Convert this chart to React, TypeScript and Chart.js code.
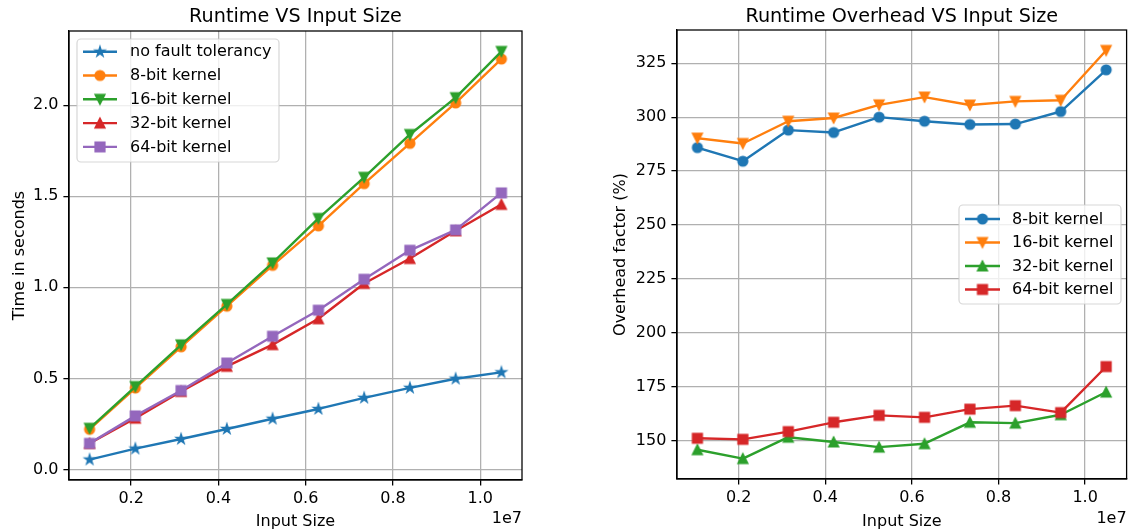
import React, { useEffect, useRef } from 'react';
import { Chart, registerables } from 'chart.js';

Chart.register(...registerables);

// ---------------- DATA ----------------
const inputSizes = [1048576, 2097152, 3145728, 4194304, 5242880, 6291456, 7340032, 8388608, 9437184, 10485760];
const xTickValues = [2e6, 4e6, 6e6, 8e6, 1e7];

const runtimeNoFT = [0.054, 0.114, 0.167, 0.222, 0.278, 0.332, 0.393, 0.448, 0.498, 0.533];
const runtime8 = [0.22, 0.447, 0.673, 0.896, 1.12, 1.337, 1.569, 1.79, 2.012, 2.253];
const runtime16 = [0.226, 0.455, 0.684, 0.906, 1.134, 1.378, 1.604, 1.839, 2.041, 2.295];
const runtime32 = [0.143, 0.281, 0.428, 0.566, 0.685, 0.827, 1.021, 1.158, 1.31, 1.455];
const runtime64 = [0.143, 0.294, 0.433, 0.584, 0.731, 0.874, 1.044, 1.203, 1.315, 1.518];
const runtimeYTicks = [0, 0.5, 1.0, 1.5, 2.0];

const overhead8 = [285.9, 279.6, 294.0, 292.9, 300.0, 298.1, 296.6, 296.8, 302.6, 321.9];
const overhead16 = [290.3, 287.8, 298.1, 299.6, 305.7, 309.3, 305.6, 307.3, 307.8, 330.9];
const overhead32 = [146.0, 141.9, 151.8, 149.6, 147.2, 148.8, 158.7, 158.3, 162.2, 172.7];
const overhead64 = [151.3, 150.8, 154.4, 158.7, 161.9, 161.0, 164.8, 166.4, 163.2, 184.5];
const overheadYTicks = [150, 175, 200, 225, 250, 275, 300, 325];

const runtimeLabels = ['no fault tolerancy', '8-bit kernel', '16-bit kernel', '32-bit kernel', '64-bit kernel'];
const overheadLabels = ['8-bit kernel', '16-bit kernel', '32-bit kernel', '64-bit kernel'];

// ---------------- STYLE ----------------
const FONT = '"DejaVu Sans", sans-serif';
const BLUE = '#1f77b4';
const ORANGE = '#ff7f0e';
const GREEN = '#2ca02c';
const RED = '#d62728';
const PURPLE = '#9467bd';

const W = 567;
const H = 532;

type Kind = 'star' | 'circle' | 'triUp' | 'triDown' | 'square';

function markerPath(ctx: CanvasRenderingContext2D, kind: Kind, x: number, y: number) {
  const s = 4.8;
  ctx.beginPath();
  if (kind === 'star') {
    const inner = s * 0.381966;
    for (let i = 0; i < 10; i++) {
      const r = i % 2 === 0 ? s : inner;
      const a = -Math.PI / 2 + (i * Math.PI) / 5;
      const px = x + r * Math.cos(a);
      const py = y + r * Math.sin(a);
      if (i === 0) ctx.moveTo(px, py);
      else ctx.lineTo(px, py);
    }
  } else if (kind === 'circle') {
    ctx.arc(x, y, s, 0, Math.PI * 2);
  } else if (kind === 'triUp') {
    ctx.moveTo(x, y - s);
    ctx.lineTo(x - s, y + s);
    ctx.lineTo(x + s, y + s);
  } else if (kind === 'triDown') {
    ctx.moveTo(x, y + s);
    ctx.lineTo(x - s, y - s);
    ctx.lineTo(x + s, y - s);
  } else {
    ctx.rect(x - s, y - s, 2 * s, 2 * s);
  }
  ctx.closePath();
}

function makeMarker(kind: Kind, color: string): HTMLCanvasElement {
  const c = document.createElement('canvas');
  c.width = 16;
  c.height = 16;
  const ctx = c.getContext('2d')!;
  ctx.fillStyle = color;
  ctx.strokeStyle = color;
  ctx.lineWidth = 1.6;
  ctx.lineJoin = 'miter';
  markerPath(ctx, kind, 8, 8);
  ctx.fill();
  ctx.stroke();
  return c;
}

interface Area { left: number; right: number; top: number; bottom: number }
interface LegendSpec { x: number; y: number; w: number; h: number; rows: number[]; lx1: number; lx2: number; tx: number }
interface SeriesSpec { label: string; data: number[]; color: string; kind: Kind }

function padRange(values: number[]) {
  const mn = Math.min(...values);
  const mx = Math.max(...values);
  const m = (mx - mn) * 0.05;
  return [mn - m, mx + m];
}

function buildConfig(opts: {
  series: SeriesSpec[];
  yTicks: number[];
  yFmt: (v: number) => string;
  area: Area;
  title: string;
  ylabel: string;
  ylabelX: number;
  legend: LegendSpec;
}) {
  const { series, yTicks, yFmt, area, title, ylabel, ylabelX, legend } = opts;
  const [xMin, xMax] = padRange(inputSizes);
  const [yMin, yMax] = padRange(series.flatMap((s) => s.data));
  const n = series.length;
  const images = series.map((s) => makeMarker(s.kind, s.color));

  const overlay = {
    id: 'overlay_' + title.replace(/\s/g, ''),
    afterDatasetsDraw(chart: any) {
      const ctx = chart.ctx as CanvasRenderingContext2D;
      const ca = chart.chartArea;
      ctx.save();
      ctx.strokeStyle = '#000';
      ctx.lineWidth = 1.28;
      ctx.strokeRect(ca.left, ca.top, ca.right - ca.left, ca.bottom - ca.top);
      ctx.restore();
    },
    afterDraw(chart: any) {
      const ctx = chart.ctx as CanvasRenderingContext2D;
      const ca = chart.chartArea;
      const cx = (ca.left + ca.right) / 2;
      ctx.save();
      ctx.fillStyle = '#000';
      // title
      ctx.font = `19.2px ${FONT}`;
      ctx.textAlign = 'center';
      ctx.textBaseline = 'alphabetic';
      ctx.fillText(title, cx, 21.5);
      // x label
      ctx.font = `16px ${FONT}`;
      ctx.fillText('Input Size', cx, 526);
      // offset text
      ctx.textAlign = 'right';
      ctx.fillText('1e7', ca.right, 523);
      // y label
      ctx.save();
      ctx.translate(ylabelX, (ca.top + ca.bottom) / 2);
      ctx.rotate(-Math.PI / 2);
      ctx.textAlign = 'center';
      ctx.fillText(ylabel, 0, 0);
      ctx.restore();

      // legend
      ctx.beginPath();
      (ctx as any).roundRect(legend.x, legend.y, legend.w, legend.h, 4);
      ctx.fillStyle = 'rgba(255,255,255,0.8)';
      ctx.fill();
      ctx.strokeStyle = 'rgba(204,204,204,0.8)';
      ctx.lineWidth = 1.2;
      ctx.stroke();
      series.forEach((s, i) => {
        const ry = legend.rows[i];
        ctx.beginPath();
        ctx.moveTo(legend.lx1, ry);
        ctx.lineTo(legend.lx2, ry);
        ctx.strokeStyle = s.color;
        ctx.lineWidth = 2.4;
        ctx.lineCap = 'butt';
        ctx.stroke();
        const img = images[i];
        ctx.drawImage(img, (legend.lx1 + legend.lx2) / 2 - img.width / 2, ry - img.height / 2);
        ctx.fillStyle = '#000';
        ctx.font = `16px ${FONT}`;
        ctx.textAlign = 'left';
        ctx.textBaseline = 'middle';
        ctx.fillText(s.label, legend.tx, ry + 0.5);
      });
      ctx.restore();
    },
  };

  const tickFont = { family: FONT, size: 16 };
  const grid = { color: '#b0b0b0', lineWidth: 1.28, tickLength: 5.6, tickColor: '#000', tickWidth: 1.28, drawTicks: true };

  return {
    type: 'line' as const,
    data: {
      datasets: series.map((s, i) => ({
        label: s.label,
        data: inputSizes.map((x, j) => ({ x, y: s.data[j] })),
        borderColor: s.color,
        backgroundColor: s.color,
        borderWidth: 2.4,
        borderJoinStyle: 'round' as const,
        borderCapStyle: 'square' as const,
        pointStyle: images[i],
        pointRadius: 5,
        pointHoverRadius: 5,
        tension: 0,
        fill: false,
        order: n - i,
      })),
    },
    options: {
      animation: false as const,
      responsive: false,
      devicePixelRatio: 1,
      events: [],
      layout: { padding: { left: 0, top: area.top, right: W - area.right, bottom: 0 } },
      plugins: { legend: { display: false }, tooltip: { enabled: false }, title: { display: false } },
      scales: {
        x: {
          type: 'linear' as const,
          min: xMin,
          max: xMax,
          afterBuildTicks: (s: any) => {
            s.ticks = xTickValues.map((v) => ({ value: v }));
          },
          afterFit: (s: any) => {
            s.height = H - area.bottom;
          },
          ticks: {
            callback: (v: any) => (Number(v) / 1e7).toFixed(1),
            font: tickFont,
            color: '#000',
            padding: 4,
            maxRotation: 0,
            autoSkip: false,
          },
          grid,
          border: { display: true, color: '#000', width: 1.28 },
        },
        y: {
          type: 'linear' as const,
          min: yMin,
          max: yMax,
          afterBuildTicks: (s: any) => {
            s.ticks = yTicks.map((v) => ({ value: v }));
          },
          afterFit: (s: any) => {
            s.width = area.left;
          },
          ticks: {
            callback: (v: any) => yFmt(Number(v)),
            font: tickFont,
            color: '#000',
            padding: 5,
            autoSkip: false,
          },
          grid,
          border: { display: true, color: '#000', width: 1.28 },
        },
      },
    },
    plugins: [overlay],
  };
}

function ChartCanvas({ left, build }: { left: number; build: () => any }) {
  const ref = useRef<HTMLCanvasElement | null>(null);
  useEffect(() => {
    const chart = new Chart(ref.current as HTMLCanvasElement, build());
    return () => chart.destroy();
  }, []);
  return (
    <canvas
      ref={ref}
      width={W}
      height={H}
      style={{ position: 'absolute', left, top: 0, width: W, height: H, display: 'block' }}
    />
  );
}

const buildRuntime = () =>
  buildConfig({
    series: [
      { label: runtimeLabels[0], data: runtimeNoFT, color: BLUE, kind: 'star' },
      { label: runtimeLabels[1], data: runtime8, color: ORANGE, kind: 'circle' },
      { label: runtimeLabels[2], data: runtime16, color: GREEN, kind: 'triDown' },
      { label: runtimeLabels[3], data: runtime32, color: RED, kind: 'triUp' },
      { label: runtimeLabels[4], data: runtime64, color: PURPLE, kind: 'square' },
    ],
    yTicks: runtimeYTicks,
    yFmt: (v) => v.toFixed(1),
    area: { left: 69, right: 522, top: 31, bottom: 480 },
    title: 'Runtime VS Input Size',
    ylabel: 'Time in seconds',
    ylabelX: 23.5,
    legend: { x: 77, y: 39, w: 202, h: 123, rows: [51.7, 75.5, 99.3, 123.1, 146.9], lx1: 83, lx2: 117, tx: 130 },
  });

const buildOverhead = () =>
  buildConfig({
    series: [
      { label: overheadLabels[0], data: overhead8, color: BLUE, kind: 'circle' },
      { label: overheadLabels[1], data: overhead16, color: ORANGE, kind: 'triDown' },
      { label: overheadLabels[2], data: overhead32, color: GREEN, kind: 'triUp' },
      { label: overheadLabels[3], data: overhead64, color: RED, kind: 'square' },
    ],
    yTicks: overheadYTicks,
    yFmt: (v) => String(Math.round(v)),
    area: { left: 110, right: 560, top: 30, bottom: 479 },
    title: 'Runtime Overhead VS Input Size',
    ylabel: 'Overhead factor (%)',
    ylabelX: 58,
    legend: { x: 392, y: 205, w: 162, h: 99, rows: [219, 242.5, 266, 289.5], lx1: 398, lx2: 433, tx: 445 },
  });

export default function App() {
  return (
    <div style={{ position: 'absolute', left: 0, top: 0, width: 1134, height: 532, background: '#fff', overflow: 'hidden' }}>
      <ChartCanvas left={0} build={buildRuntime} />
      <ChartCanvas left={567} build={buildOverhead} />
    </div>
  );
}
